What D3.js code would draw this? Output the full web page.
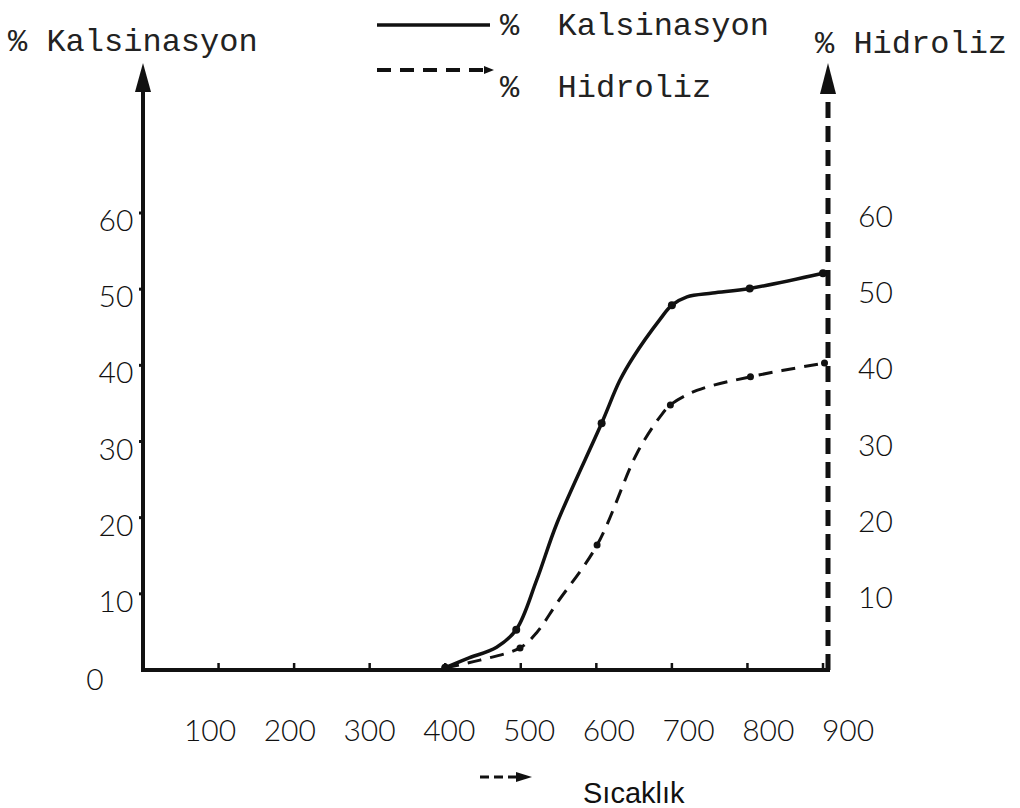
<!doctype html>
<html lang="tr">
<head>
<meta charset="utf-8" />
<title>% Kalsinasyon ve % Hidroliz - Sıcaklık</title>
<script src="https://cdn.jsdelivr.net/npm/d3@7"></script>
<style>
  body { margin: 0; background: #fff; }
  svg { display: block; }
</style>
</head>
<body>
<script>
// values (temperature, percent)
var kalsinasyonX = [400, 429, 468, 494, 521, 548, 607, 631, 649, 684, 700, 720, 754, 803, 900];
var kalsinasyonY = [0.3, 1.5, 3, 5.3, 11.8, 19.3, 32.4, 38, 41.1, 46, 47.9, 49, 49.5, 50.1, 52.1];
var kalsinasyonDots = [400, 494, 607, 700, 803, 900];

var hidrolizX = [400, 446, 499, 521, 548, 601, 654, 684, 698, 733, 804, 902];
var hidrolizY = [0.3, 1.3, 2.9, 4.9, 8.8, 16.4, 28.5, 33.2, 34.8, 36.7, 38.5, 40.3];
var hidrolizDots = [400, 499, 601, 698, 804, 902];

var xTicks = [100, 200, 300, 400, 500, 600, 700, 800, 900];
var yTicksLeft = [0, 10, 20, 30, 40, 50, 60];
var yTicksRight = [10, 20, 30, 40, 50, 60];

var w = 1020, h = 808;
var ink = "#111";
var monoFont = "'Liberation Mono', 'DejaVu Sans Mono', monospace";
var tickFont = "Lato, 'Open Sans', sans-serif";

var svg = d3.select("body").append("svg")
  .attr("width", w)
  .attr("height", h);

var x = d3.scaleLinear().domain([0, 900]).range([143, 823]);
var y = d3.scaleLinear().domain([0, 60]).range([670, 213]);
var xLabel = d3.scaleLinear().domain([100, 900]).range([210, 848]);
var rightX = 828;

// axes
svg.append("line")
  .attr("x1", x(0)).attr("x2", x(0))
  .attr("y1", y(0) + 2).attr("y2", 88)
  .attr("stroke", ink).attr("stroke-width", 4);
svg.append("path")
  .attr("d", "M" + x(0) + ",63 L" + (x(0) - 8) + ",92 L" + (x(0) + 8) + ",92 Z")
  .attr("fill", ink);

svg.append("line")
  .attr("x1", x(0) - 2).attr("x2", rightX + 2)
  .attr("y1", y(0)).attr("y2", y(0))
  .attr("stroke", ink).attr("stroke-width", 4);

svg.append("line")
  .attr("x1", rightX).attr("x2", rightX)
  .attr("y1", y(0)).attr("y2", 92)
  .attr("stroke", ink).attr("stroke-width", 5)
  .attr("stroke-dasharray", "16,8");
svg.append("path")
  .attr("d", "M" + rightX + ",63 L" + (rightX - 8) + ",94 L" + (rightX + 8) + ",94 Z")
  .attr("fill", ink);

// x ticks
svg.selectAll(".xtick")
  .data(xTicks)
  .enter().append("line")
  .attr("class", "xtick")
  .attr("x1", function(d) { return x(d); })
  .attr("x2", function(d) { return x(d); })
  .attr("y1", y(0))
  .attr("y2", y(0) - 7)
  .attr("stroke", ink).attr("stroke-width", 2.5);

svg.selectAll(".xlabel")
  .data(xTicks)
  .enter().append("text")
  .attr("class", "xlabel")
  .attr("x", function(d) { return xLabel(d); })
  .attr("y", 741)
  .attr("text-anchor", "middle")
  .attr("font-family", tickFont)
  .attr("font-weight", 300)
  .attr("font-size", 30)
  .attr("fill", ink)
  .text(function(d) { return d; });

// left ticks
svg.selectAll(".ytick")
  .data(yTicksLeft.slice(1))
  .enter().append("line")
  .attr("class", "ytick")
  .attr("x1", x(0) - 4)
  .attr("x2", x(0))
  .attr("y1", function(d) { return y(d); })
  .attr("y2", function(d) { return y(d); })
  .attr("stroke", ink).attr("stroke-width", 3);

svg.selectAll(".ylabel")
  .data(yTicksLeft)
  .enter().append("text")
  .attr("class", "ylabel")
  .attr("x", function(d) { return d === 0 ? 95 : 116; })
  .attr("y", function(d) { return y(d) + (d === 0 ? 20 : 18); })
  .attr("text-anchor", "middle")
  .attr("font-family", tickFont)
  .attr("font-weight", 300)
  .attr("font-size", 30)
  .attr("fill", ink)
  .text(function(d) { return d; });

svg.selectAll(".rlabel")
  .data(yTicksRight)
  .enter().append("text")
  .attr("class", "rlabel")
  .attr("x", 858)
  .attr("y", function(d) { return y(d) + 14; })
  .attr("font-family", tickFont)
  .attr("font-weight", 300)
  .attr("font-size", 30)
  .attr("fill", ink)
  .text(function(d) { return d; });

// curves
var kalData = kalsinasyonX.map(function(d, i) { return [d, kalsinasyonY[i]]; });
var hidData = hidrolizX.map(function(d, i) { return [d, hidrolizY[i]]; });

var line = d3.line()
  .x(function(d) { return x(d[0]); })
  .y(function(d) { return y(d[1]); })
  .curve(d3.curveCatmullRom.alpha(0.5));

svg.append("path")
  .attr("d", line(kalData))
  .attr("fill", "none")
  .attr("stroke", ink)
  .attr("stroke-width", 3.5)
  .attr("stroke-linejoin", "round");

svg.append("path")
  .attr("d", line(hidData))
  .attr("fill", "none")
  .attr("stroke", ink)
  .attr("stroke-width", 3)
  .attr("stroke-dasharray", "14,9");

svg.selectAll(".kdot")
  .data(kalData.filter(function(d) { return kalsinasyonDots.indexOf(d[0]) >= 0; }))
  .enter().append("circle")
  .attr("class", "kdot")
  .attr("cx", function(d) { return x(d[0]); })
  .attr("cy", function(d) { return y(d[1]); })
  .attr("r", 4)
  .attr("fill", ink);

svg.selectAll(".hdot")
  .data(hidData.filter(function(d) { return hidrolizDots.indexOf(d[0]) >= 0; }))
  .enter().append("circle")
  .attr("class", "hdot")
  .attr("cx", function(d) { return x(d[0]); })
  .attr("cy", function(d) { return y(d[1]); })
  .attr("r", 3.5)
  .attr("fill", ink);

// titles
function mono(txt, tx, ty) {
  svg.append("text")
    .attr("x", tx).attr("y", ty)
    .attr("font-family", monoFont)
    .attr("font-size", 32)
    .attr("fill", "#222")
    .attr("xml:space", "preserve")
    .style("white-space", "pre")
    .text(txt);
}
mono("% Kalsinasyon", 8, 51);
mono("% Hidroliz", 815, 53);

// legend
svg.append("line")
  .attr("x1", 377).attr("x2", 490)
  .attr("y1", 25).attr("y2", 25)
  .attr("stroke", ink).attr("stroke-width", 3.5);
mono("%  Kalsinasyon", 500, 35);

svg.append("line")
  .attr("x1", 377).attr("x2", 486)
  .attr("y1", 70).attr("y2", 70)
  .attr("stroke", ink).attr("stroke-width", 4)
  .attr("stroke-dasharray", "14,9");
svg.append("path")
  .attr("d", "M484,66 L494,70 L484,74 Z")
  .attr("fill", ink);
mono("%  Hidroliz", 500, 97);

// x axis caption
svg.append("line")
  .attr("x1", 480).attr("x2", 520)
  .attr("y1", 777).attr("y2", 777)
  .attr("stroke", ink).attr("stroke-width", 3)
  .attr("stroke-dasharray", "9,5");
svg.append("path")
  .attr("d", "M516,772 L532,777 L516,782 Z")
  .attr("fill", ink);
svg.append("text")
  .attr("x", 583).attr("y", 803)
  .attr("font-family", "'Liberation Sans', Arial, sans-serif")
  .attr("font-size", 29)
  .attr("fill", ink)
  .text("Sıcaklık");
</script>
</body>
</html>
